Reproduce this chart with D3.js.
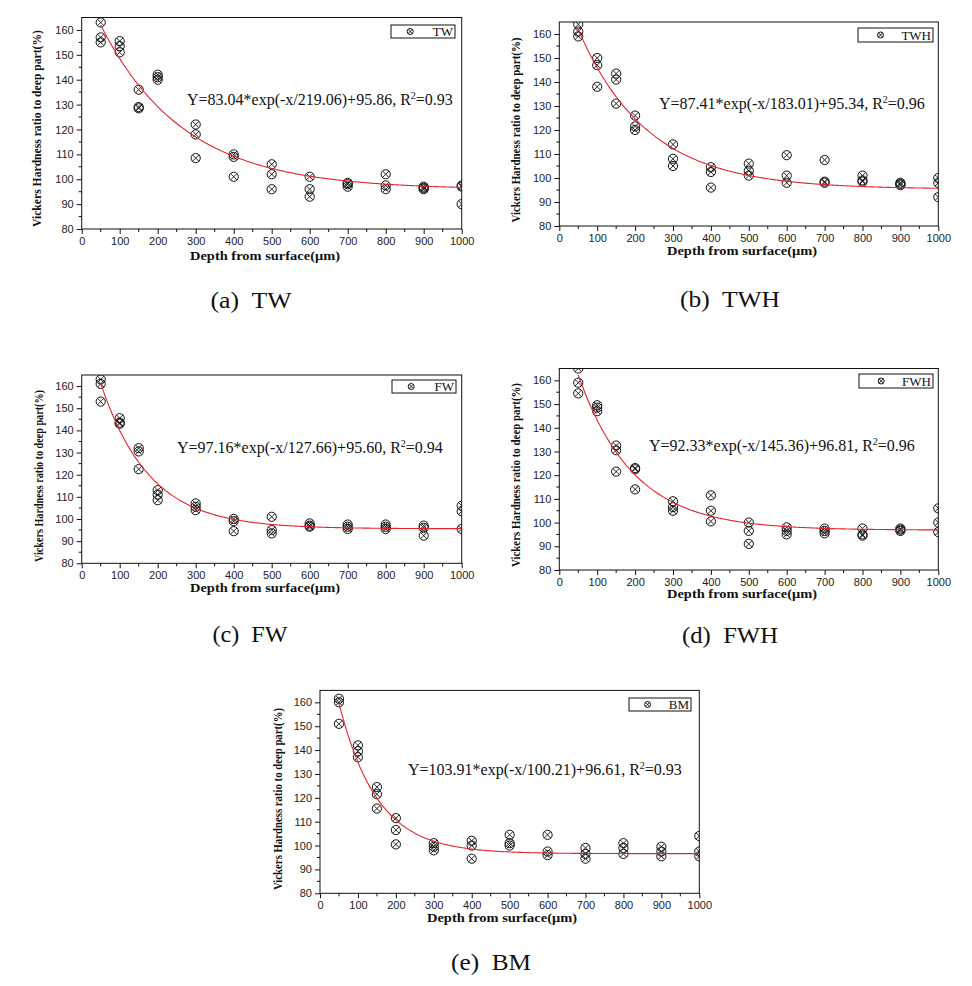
<!DOCTYPE html>
<html>
<head>
<meta charset="utf-8">
<script src="https://cdn.jsdelivr.net/npm/d3@7/dist/d3.min.js"></script>
<style>
  html, body { margin: 0; padding: 0; background: #fff; }
  svg { display: block; }
</style>
</head>
<body>
<svg id="chart" width="972" height="986"></svg>
<script>
// ---------------- DATA ----------------
const depths = [50, 100, 150, 200, 300, 400, 500, 600, 700, 800, 900, 1000];
const xTicks = [0, 100, 200, 300, 400, 500, 600, 700, 800, 900, 1000];
const yTicks = [80, 90, 100, 110, 120, 130, 140, 150, 160];

const twValues  = [[163,157,155],[155.5,153.5,151],[136,129,128.5],[142,141,140],[122,118,108.5],[110,109,101],[106,102,96],[101,96,93],[98.5,98,97],[102,97.5,96],[97,96.5,96],[97.5,97,90]];
const twhValues = [[164,161,159],[150,147,138],[143.5,141,131],[126,121.5,120],[114,108,105],[104.5,102.5,96],[106,103,101],[109.5,101,98],[107.5,98.5,98],[101,99,98.5],[98,97.5,97],[100,98,92]];
const fwValues  = [[163,161,153],[145.5,143.5,143],[132,130.5,122.5],[113,111,108.5],[107,105.5,104],[100,99,94.5],[101,95,93.5],[98,97,96.5],[97.5,96.5,95.5],[97.5,96.5,95.5],[97,96,92.5],[106,103.5,95.5]];
const fwhValues = [[165,159,154.5],[149.5,148.5,147],[132.5,130.5,121.5],[123,122.5,114],[109,106.5,105],[111.5,105,100.5],[100,96.5,91],[98,96.5,95],[97.5,96.5,95.5],[97.5,95,94.5],[97.5,97,96.5],[106,100,96]];
const bmValues  = [[161.5,160,151],[142,139.5,137],[124.5,121.5,115.5],[111.5,106.5,100.5],[101,99.5,98],[102,100,94.5],[104.5,101,100],[104.5,97.5,96],[99,96.5,94.5],[101,99,96.5],[99.5,97.5,95.5],[104,97.5,95.5]];

const seriesNames = ["TW", "TWH", "FW", "FWH", "BM"];
const captions = ["(a)  TW", "(b)  TWH", "(c)  FW", "(d)  FWH", "(e)  BM"];
// fit parameters: Y = A*exp(-x/t) + y0
const fitA  = [83.04, 87.41, 97.16, 92.33, 103.91];
const fitT  = [219.06, 183.01, 127.66, 145.36, 100.21];
const fitY0 = [95.86, 95.34, 95.60, 96.81, 96.61];
const fitR2 = ["0.93", "0.96", "0.94", "0.96", "0.93"];
const allValues = [twValues, twhValues, fwValues, fwhValues, bmValues];

// ---------------- LAYOUT ----------------
const panels = [
  {l: 81.7,  r: 461.7, t: 17.5,  b: 229,   yl: [37, 128.5, 197], xl: [265, 260], eq: [187, 105], lg: [391, 25, 64, 13], cap: [251, 308, 81]},
  {l: 559.3, r: 938.3, t: 22,    b: 226,   yl: [516, 130, 185],  xl: [742, 255], eq: [659, 109], lg: [858, 28, 75, 14], cap: [730, 307, 100]},
  {l: 81.7,  r: 461.7, t: 375,   b: 563.3, yl: [39, 476, 172],   xl: [265, 592], eq: [177, 453], lg: [392, 380, 64, 13], cap: [250, 642, 75]},
  {l: 559.3, r: 938.3, t: 368.5, b: 570,   yl: [516, 475, 184],  xl: [742, 598], eq: [649, 451], lg: [859, 374, 74, 14], cap: [730, 643, 96]},
  {l: 320,   r: 699.3, t: 690.4, b: 893.3, yl: [277.5, 799, 182], xl: [502, 922], eq: [408, 775], lg: [629, 698, 62, 13], cap: [491, 970, 80]}
];

const svg = d3.select("#chart");
const serif = "'Liberation Serif', 'Times New Roman', serif";
const sans = "'Liberation Sans', Arial, sans-serif";

function marker(g, x, y, r) {
  const k = r * 0.72;
  g.append("circle").attr("cx", x).attr("cy", y).attr("r", r)
    .attr("fill", "none").attr("stroke", "#111").attr("stroke-width", 1);
  g.append("path").attr("d", `M${x-k},${y-k}L${x+k},${y+k}M${x-k},${y+k}L${x+k},${y-k}`)
    .attr("stroke", "#111").attr("stroke-width", 0.9);
}

panels.forEach((p, i) => {
  const g = svg.append("g");
  const x = d3.scaleLinear().domain([0, 1000]).range([p.l, p.r]);
  const y = d3.scaleLinear().domain([80, 165]).range([p.b, p.t]);

  const clipId = "clip" + i;
  svg.append("defs").append("clipPath").attr("id", clipId)
    .append("rect").attr("x", p.l).attr("y", p.t).attr("width", p.r - p.l).attr("height", p.b - p.t);

  // minor ticks
  const minorX = d3.range(0, 1001, 50).filter(v => v % 100 !== 0);
  const minorY = d3.range(85, 165, 10);
  g.selectAll(".mx").data(minorX).join("line")
    .attr("x1", d => x(d)).attr("x2", d => x(d)).attr("y1", p.b).attr("y2", p.b + 3)
    .attr("stroke", "#111").attr("stroke-width", 1);
  g.selectAll(".my").data(minorY).join("line")
    .attr("y1", d => y(d)).attr("y2", d => y(d)).attr("x1", p.l).attr("x2", p.l - 3)
    .attr("stroke", "#111").attr("stroke-width", 1);

  // axes
  const xAxis = d3.axisBottom(x).tickValues(xTicks).tickSize(5).tickPadding(3).tickFormat(d3.format("d"));
  const yAxis = d3.axisLeft(y).tickValues(yTicks).tickSize(5).tickPadding(3).tickFormat(d3.format("d"));
  const gx = g.append("g").attr("transform", `translate(0,${p.b})`).call(xAxis);
  const gy = g.append("g").attr("transform", `translate(${p.l},0)`).call(yAxis);
  [gx, gy].forEach(a => {
    a.select(".domain").remove();
    a.selectAll(".tick line").attr("stroke", "#111");
    a.selectAll(".tick text").attr("fill", "#222").style("font-family", sans).style("font-size", "11px");
  });

  // frame
  g.append("rect").attr("x", p.l).attr("y", p.t).attr("width", p.r - p.l).attr("height", p.b - p.t)
    .attr("fill", "none").attr("stroke", "#111").attr("stroke-width", 1);

  // data points
  const pts = [];
  allValues[i].forEach((vals, j) => vals.forEach(v => pts.push([depths[j], v])));
  const pg = g.append("g").attr("clip-path", `url(#${clipId})`);
  pts.forEach(d => marker(pg, x(d[0]), y(d[1]), 4.6));

  // fit curve
  const xs = d3.range(50, 1001, 5);
  const line = d3.line().x(d => x(d)).y(d => y(fitA[i] * Math.exp(-d / fitT[i]) + fitY0[i])).curve(d3.curveMonotoneX);
  pg.append("path").datum(xs).attr("d", line).attr("fill", "none").attr("stroke", "#e3262e").attr("stroke-width", 1.1);

  // legend
  const [lx, ly, lw, lh] = p.lg;
  g.append("rect").attr("x", lx).attr("y", ly).attr("width", lw).attr("height", lh)
    .attr("fill", "#fff").attr("stroke", "#111").attr("stroke-width", 1);
  marker(g, lx + lw * 0.3, ly + lh / 2, 3);
  g.append("text").attr("x", lx + lw - 2).attr("y", ly + lh - 2.5).attr("text-anchor", "end")
    .style("font-family", serif).style("font-size", "13px").attr("fill", "#111").text(seriesNames[i]);

  // equation
  const eq = g.append("text").attr("x", p.eq[0]).attr("y", p.eq[1])
    .style("font-family", serif).style("font-size", "16px").attr("fill", "#111");
  eq.append("tspan").text(`Y=${fitA[i].toFixed(2)}*exp(-x/${fitT[i].toFixed(2)})+${fitY0[i].toFixed(2)}, R`);
  eq.append("tspan").attr("dy", -6).style("font-size", "10px").text("2");
  eq.append("tspan").attr("dy", 6).text(`=${fitR2[i]}`);

  // axis titles
  g.append("text").attr("transform", `translate(${p.yl[0]},${p.yl[1]}) rotate(-90)`)
    .attr("text-anchor", "middle").attr("dy", "0.35em")
    .attr("textLength", p.yl[2]).attr("lengthAdjust", "spacingAndGlyphs")
    .style("font-family", serif).style("font-weight", "bold").style("font-size", "12.5px").attr("fill", "#111")
    .text("Vickers Hardness ratio to deep part(%)");
  g.append("text").attr("x", p.xl[0]).attr("y", p.xl[1]).attr("text-anchor", "middle")
    .attr("textLength", 150).attr("lengthAdjust", "spacingAndGlyphs")
    .style("font-family", serif).style("font-weight", "bold").style("font-size", "13.5px").attr("fill", "#111")
    .text("Depth from surface(\u03bcm)");

  // caption
  g.append("text").attr("x", p.cap[0]).attr("y", p.cap[1]).attr("text-anchor", "middle")
    .attr("textLength", p.cap[2]).attr("lengthAdjust", "spacingAndGlyphs")
    .style("font-family", serif).style("font-size", "24px").attr("fill", "#111")
    .style("white-space", "pre").text(captions[i]);
});
</script>
</body>
</html>
